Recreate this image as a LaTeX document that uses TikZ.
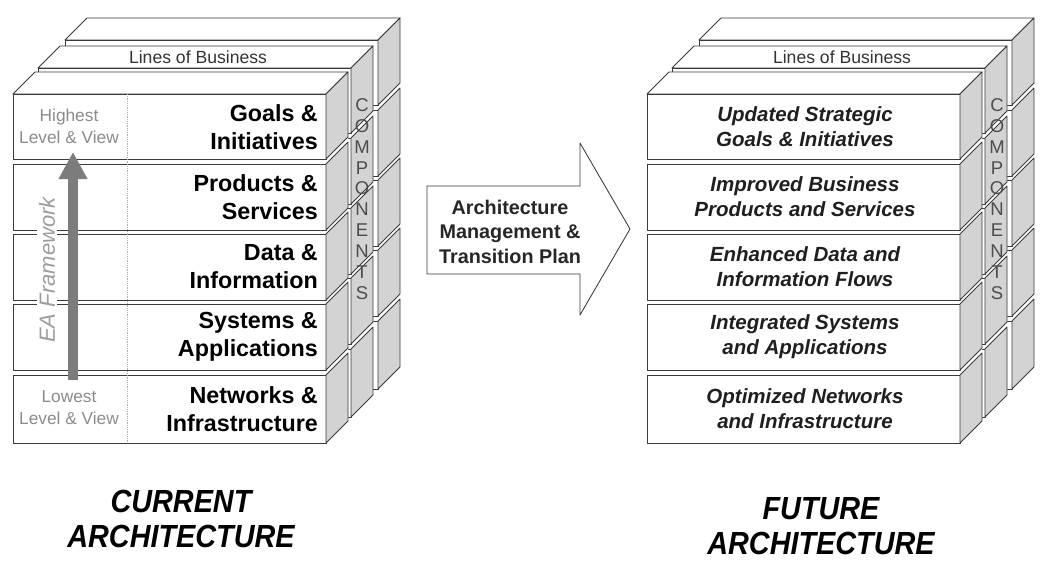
\documentclass[tikz,border=0pt]{standalone}
\usepackage{fontspec}
\setmainfont{Liberation Sans}
\usetikzlibrary{arrows.meta}
\definecolor{edgec}{HTML}{3A3A3A}
\definecolor{sidec}{HTML}{D3D3D3}
\definecolor{lighttxt}{HTML}{8C8C8C}
\definecolor{arrowc}{HTML}{7C7C7C}
\tikzset{
  edge/.style={draw=edgec, line width=0.85pt, line join=round},
  face/.style={edge, fill=white},
  side/.style={edge, fill=sidec},
  rowL/.style={anchor=east, align=right, text=black, inner sep=0pt,
    font=\bfseries\fontsize{23.3}{28}\selectfont},
  rowR/.style={align=center, text=black!88, inner sep=0pt,
    font=\bfseries\itshape\fontsize{20.5}{25}\selectfont},
  lob/.style={text=black!80, inner sep=0pt, font=\fontsize{17.6}{21}\selectfont},
  comp/.style={align=center, text=black!70, inner sep=0pt, font=\fontsize{18.5}{20.9}\selectfont},
  levtxt/.style={align=center, text=lighttxt, inner sep=0pt, font=\fontsize{17.3}{22}\selectfont},
  eatxt/.style={rotate=90, text=lighttxt!85, fill=white, inner sep=1.5pt,
    font=\itshape\fontsize{22}{26}\selectfont},
  eaarrow/.style={draw=arrowc, line width=9.5pt, -{Triangle[width=27pt,length=27pt]}},
  plantxt/.style={align=center, text=black!85, inner sep=0pt,
    font=\bfseries\fontsize{19.8}{24.5}\selectfont},
  titletxt/.style={align=center, text=black, inner sep=0pt, xscale=0.9,
    font=\bfseries\itshape\fontsize{32}{35}\selectfont},
}
\newcommand{\EAslab}[2]{%
  \begin{scope}[shift={(#1,#2)}]
    \fill[white] (13,94) -- (35,72) -- (348,72) -- (348,421) -- (326,443) -- (13,443) -- cycle;
    \draw[face] (13,94) -- (35,72) -- (348,72) -- (326,94) -- cycle;
    \foreach \t/\b in {94/159,164/230,234/300,304/370,375/443}{
      \draw[face] (13,\t) rectangle (326,\b);
      \draw[side] (326,\t) -- (348,{\t-22}) -- (348,{\b-22}) -- (326,\b) -- cycle;
    }
  \end{scope}}
\begin{document}
\begin{tikzpicture}[x=1pt, y=-1pt]
\useasboundingbox (0,0) rectangle (1045,570);
\fill[white] (0,0) rectangle (1045,570);

% ---------------- current architecture ----------------
\EAslab{52}{-54}
\EAslab{25}{-26}
\node[lob] (lobL) at (198,57) {Lines of Business};
\node[comp] (compL) at (362,199) {C\\O\\M\\P\\O\\N\\E\\N\\T\\S};
\EAslab{0}{0}

\draw[lighttxt!70, densely dotted, line width=0.8pt] (127,94) -- (127,443);

\node[levtxt] (hiL) at (69,126) {Highest\\Level \& View};
\node[levtxt] (loL) at (69,408) {Lowest\\Level \& View};
\node[eatxt] (ea) at (47,270) {EA Framework};
\coordinate (eaBot) at (73,380);
\coordinate (eaTop) at (73,152);
\draw[eaarrow] (eaBot) -- (eaTop);

\node[rowL] (g1) at (318,127) {Goals \&\\Initiatives};
\node[rowL] (g2) at (318,197) {Products \&\\Services};
\node[rowL] (g3) at (318,267) {Data \&\\Information};
\node[rowL] (g4) at (318,337) {Systems \&\\Applications};
\node[rowL] (g5) at (318,409) {Networks \&\\Infrastructure};

% ---------------- transition arrow ----------------
\draw[face] (427,186) -- (580,186) -- (580,143) -- (630,229) -- (580,315) -- (580,274) -- (427,274) -- cycle;
\node[plantxt] (plan) at (510,231.5) {Architecture\\Management \&\\Transition Plan};

% ---------------- future architecture ----------------
\EAslab{686}{-54}
\EAslab{659}{-26}
\node[lob] (lobR) at (842,57) {Lines of Business};
\node[comp] (compR) at (997,199) {C\\O\\M\\P\\O\\N\\E\\N\\T\\S};
\EAslab{634}{0}

\node[rowR] (f1) at (805,127) {Updated Strategic\\Goals \& Initiatives};
\node[rowR] (f2) at (805,197) {Improved Business\\Products and Services};
\node[rowR] (f3) at (805,267) {Enhanced Data and\\Information Flows};
\node[rowR] (f4) at (805,337) {Integrated Systems\\and Applications};
\node[rowR] (f5) at (805,409) {Optimized Networks\\and Infrastructure};

% ---------------- titles ----------------
\node[titletxt] (cur) at (181,519) {CURRENT\\ARCHITECTURE};
\node[titletxt] (fut) at (821,526.5) {FUTURE\\ARCHITECTURE};
\end{tikzpicture}
\end{document}
